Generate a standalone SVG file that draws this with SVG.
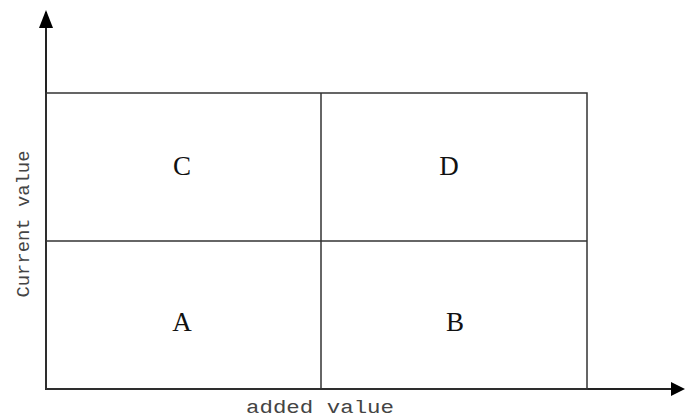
<svg xmlns="http://www.w3.org/2000/svg" width="685" height="417" viewBox="0 0 685 417">
<style>
.ln{stroke:#333;stroke-width:1.5;fill:none}
.ax{stroke:#222;stroke-width:2;fill:none}
.lbl{font-family:"Liberation Serif",serif;font-size:27px;fill:#111;text-anchor:middle}
.axl{font-family:"Liberation Mono","DejaVu Sans Mono",monospace;font-size:18px;fill:#444;text-anchor:middle}
</style>
<rect width="685" height="417" fill="#fff"/>
<g id="connectors">
<line class="ax" x1="46" y1="390" x2="46" y2="12"/>
<path d="M46,10 L39,28 L53,28 z" fill="#000"/>
<line class="ax" x1="46" y1="389" x2="672" y2="389"/>
<path d="M685,389 L671,382 L671,396 z" fill="#000"/>
</g>
<g id="grid">
<rect class="ln" x="46" y="93" width="541" height="296"/>
<line class="ln" x1="321" y1="93" x2="321" y2="389"/>
<line class="ln" x1="46" y1="241" x2="587" y2="241"/>
</g>
<g id="C"><text class="lbl" x="182" y="175">C</text></g>
<g id="D"><text class="lbl" x="449" y="175">D</text></g>
<g id="A"><text class="lbl" x="182" y="331">A</text></g>
<g id="B"><text class="lbl" x="455" y="331">B</text></g>
<text class="axl" x="320" y="413" textLength="148" lengthAdjust="spacingAndGlyphs">added value</text>
<text class="axl" transform="translate(29,224) rotate(-90)" x="0" y="0" textLength="147" lengthAdjust="spacingAndGlyphs">Current value</text>
</svg>
